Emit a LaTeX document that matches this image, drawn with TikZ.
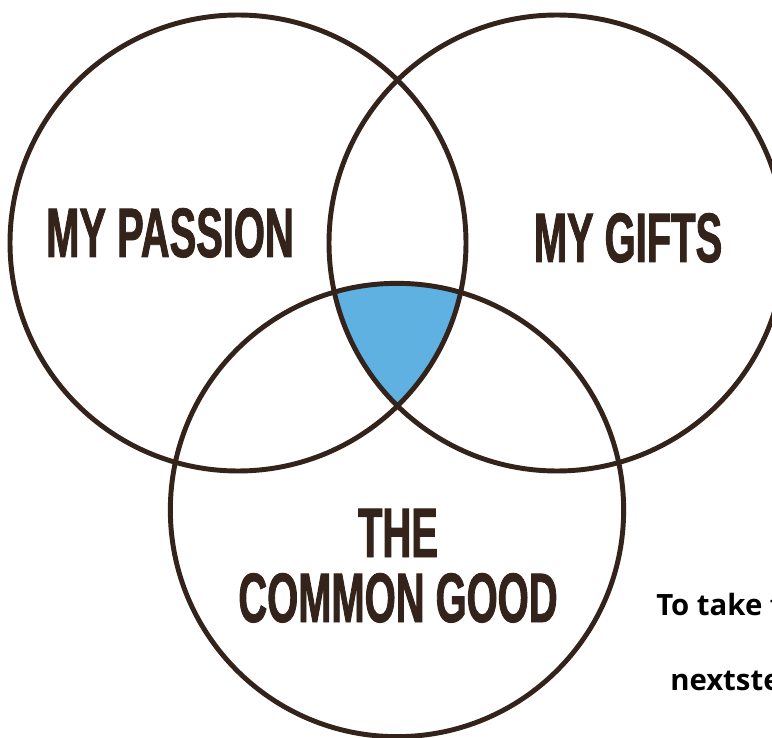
\documentclass[tikz,border=0pt]{standalone}
\usepackage{fontspec}
\newfontfamily\headfont{Liberation Sans}[FakeStretch=0.57,FakeBold=1.2]
\newfontfamily\bodyfont{Open Sans}
\definecolor{ink}{HTML}{33231A}
\definecolor{sky}{HTML}{5FB1E2}
\begin{document}
\begin{tikzpicture}[x=0.75pt,y=-0.75pt,
    ring/.style={draw=ink,line width=3.7pt},
    head/.style={text=ink,inner sep=0pt,anchor=base,font=\headfont\bfseries\fontsize{52.5}{48.75}\selectfont},
    note/.style={text=black,inner sep=0pt,anchor=base west,font=\bodyfont\bfseries\fontsize{22}{26}\selectfont}]
    \useasboundingbox (0,0) rectangle (772,738);
    \clip (0,0) rectangle (772,738);
    \coordinate (P) at (238,243);
    \coordinate (G) at (557,243);
    \coordinate (C) at (397,510);
    % shared part of the three circles
    \begin{scope}
      \clip (P) circle[radius=171pt];
      \clip (G) circle[radius=171pt];
      \fill[sky] (C) circle[radius=170pt];
    \end{scope}
    \draw[ring] (P) circle[radius=171pt];
    \draw[ring] (G) circle[radius=171pt];
    \draw[ring] (C) circle[radius=170pt];
    \node[head] (passion) at (170,257) {MY PASSION};
    \node[head] (gifts) at (628,262) {MY GIFTS};
    \node[head,align=center] (good) at (398,622) {THE\\COMMON GOOD};
    \node[note] (take) at (656,615) {To take the};
    \node[note] (next) at (670,690) {nextstep};
  \end{tikzpicture}
\end{document}
